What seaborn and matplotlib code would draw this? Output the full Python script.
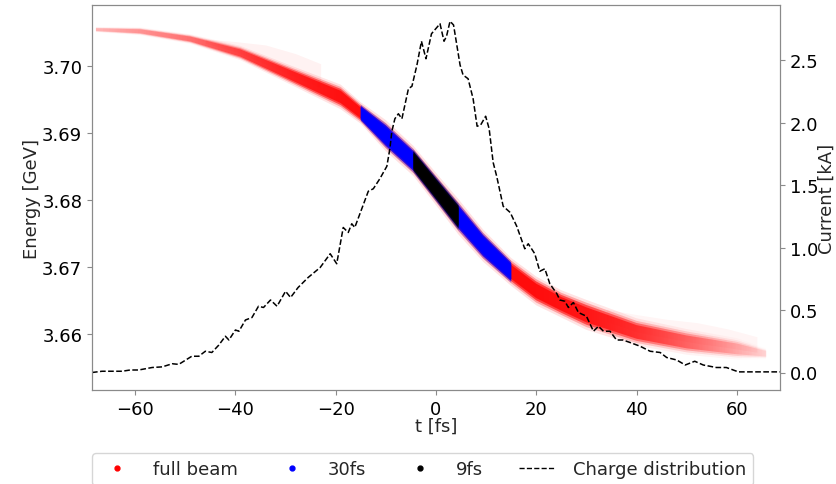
import numpy as np
import matplotlib
matplotlib.use("Agg")
import matplotlib.pyplot as plt
from matplotlib.lines import Line2D
from matplotlib.colors import to_rgb
import seaborn as sns

# ---- beam band ----
t_beam = [-68, -59, -49, -39, -29, -19, -15, -10, -4.5, 0, 4.5, 9.4, 15, 20, 25, 30, 40, 50, 60, 66]
e_center = [3.70539, 3.70513, 3.70398, 3.70189, 3.69861, 3.69534, 3.69295, 3.68957, 3.68580,
            3.68162, 3.67745, 3.67317, 3.66925, 3.66642, 3.66449, 3.66285, 3.66031, 3.65882,
            3.65778, 3.65703]
e_half = [0.00025, 0.00037, 0.00045, 0.00067, 0.00089, 0.00115, 0.00100, 0.00145, 0.00140,
          0.00150, 0.00165, 0.00150, 0.00130, 0.00134, 0.00127, 0.00140, 0.00127, 0.00120,
          0.00100, 0.00050]
# visual density of the dots along the band (0..1)
dens = [0.18, 0.28, 0.4, 0.6, 0.8, 0.95, 1, 1, 1, 1, 1, 1, 1, 1, 0.95, 0.9, 0.7, 0.45, 0.22, 0.1]

# sparse upper halos of the full beam
t_halo_l = [-46, -40, -34, -28, -23]
e_halo_l = [3.7040, 3.7036, 3.7031, 3.7018, 3.7003]
t_halo_r = [34, 40, 46, 52, 58, 64]
e_halo_r = [3.6637, 3.6629, 3.6622, 3.6617, 3.6608, 3.6596]

# ---- charge distribution (current) ----
t_cur = [-68.6, -66.6, -62.6, -61.0, -59.3, -56.6, -54.6, -52.6, -51.3, -48.7, -47.3, -46.0,
         -44.7, -43.3, -42.0, -41.3, -40.0, -39.3, -38.0, -36.7, -35.4, -34.4, -33.0, -31.7,
         -30.0, -29.0, -27.5, -25.5, -23.1, -21.1, -19.8, -18.5, -17.5, -16.8, -16.2, -14.8,
         -13.5, -12.5, -11.2, -9.8, -9.2, -8.8, -8.2, -7.5, -6.8, -5.5, -4.8, -3.8, -2.9,
         -2.0, -0.9, 0.8, 1.6, 2.1, 2.8, 3.5, 4.8, 5.4, 6.4, 7.4, 8.2, 8.9, 9.9, 10.6, 11.4,
         12.1, 13.4, 14.8, 16.1, 17.7, 18.4, 19.7, 20.7, 21.7, 22.7, 24.1, 24.7, 25.7, 26.4,
         27.4, 28.4, 30.0, 31.4, 32.4, 33.4, 34.7, 36.0, 37.3, 38.7, 40.7, 42.7, 44.7, 46.0,
         48.0, 49.7, 51.6, 53.3, 55.9, 57.9, 60.3, 68.6]
i_cur = [0.00, 0.01, 0.01, 0.02, 0.02, 0.04, 0.045, 0.07, 0.065, 0.13, 0.13, 0.17,
         0.16, 0.22, 0.29, 0.26, 0.34, 0.33, 0.42, 0.44, 0.53, 0.52, 0.58, 0.53,
         0.65, 0.60, 0.68, 0.76, 0.84, 0.95, 0.87, 1.16, 1.12, 1.19, 1.16, 1.31,
         1.45, 1.47, 1.55, 1.65, 1.79, 1.93, 2.03, 2.07, 2.03, 2.27, 2.29, 2.46, 2.65,
         2.51, 2.71, 2.79, 2.65, 2.69, 2.81, 2.78, 2.46, 2.38, 2.35, 2.19, 1.97, 1.98, 2.05, 1.95, 1.68,
         1.57, 1.33, 1.28, 1.17, 0.99, 1.03, 0.95, 0.81, 0.83, 0.71, 0.63, 0.58, 0.57, 0.52,
         0.56, 0.48, 0.45, 0.33, 0.37, 0.33, 0.33, 0.26, 0.26, 0.24, 0.21, 0.17, 0.16, 0.12,
         0.10, 0.06, 0.09, 0.06, 0.04, 0.04, 0.005, 0.005]

legend_labels = ["full beam", "30fs", "9fs", "Charge distribution"]
x_ticks = [-60, -40, -20, 0, 20, 40, 60]
e_ticks = [3.66, 3.67, 3.68, 3.69, 3.70]
i_ticks = [0.0, 0.5, 1.0, 1.5, 2.0, 2.5]

sns.set_style("ticks")
plt.rcParams["font.family"] = ["DejaVu Sans"]
plt.rcParams["font.size"] = 13
grey = "#8a8a8a"

XLIM = (-68.6, 68.6)
YLIM = (3.65165, 3.70905)

fig = plt.figure(figsize=(8.37, 4.85), dpi=100)
ax = fig.add_axes([92 / 837, 1 - 391 / 485, (780 - 92) / 837, (391 - 6) / 485])
ax.set_xlim(*XLIM)
ax.set_ylim(*YLIM)

tb = np.array(t_beam)
ec = np.array(e_center)
eh = np.array(e_half)
dn = np.array(dens)

# horizontal fade of the dot density, used as an alpha ramp
xcols = np.linspace(XLIM[0], XLIM[1], 700)
fade = np.interp(xcols, tb, dn, left=0, right=0)


def band(lo, hi, color, scales_alphas, use_fade):
    m = (tb >= lo) & (tb <= hi)
    rgb = to_rgb(color)
    for s, a in scales_alphas:
        poly = ax.fill_between(tb[m], ec[m] - s * eh[m], ec[m] + s * eh[m],
                               facecolor="none", lw=0)
        img = np.zeros((2, len(xcols), 4))
        img[..., 0], img[..., 1], img[..., 2] = rgb
        alpha = a * (fade if use_fade else np.ones_like(fade))
        img[..., 3] = np.clip(alpha, 0, 1)[None, :]
        im = ax.imshow(img, extent=[XLIM[0], XLIM[1], YLIM[0], YLIM[1]],
                       aspect="auto", origin="lower", interpolation="bilinear", zorder=1)
        im.set_clip_path(poly.get_paths()[0], transform=ax.transData)


# halos
tl = np.array(t_halo_l)
ax.fill_between(tl, np.interp(tl, tb, ec), e_halo_l, color="red", alpha=0.05, lw=0)
tr = np.array(t_halo_r)
ax.fill_between(tr, np.interp(tr, tb, ec), e_halo_r, color="red", alpha=0.04, lw=0)

band(-70, 70, "red", [(1.6, 0.12), (1.3, 0.3), (1.05, 0.6), (0.8, 0.8)], True)
band(-15, 15, "blue", [(1.25, 0.3), (1.05, 0.8), (0.85, 1.0)], False)
band(-4.5, 4.5, "black", [(1.2, 0.3), (1.0, 0.85), (0.8, 1.0)], False)

ax.set_xlim(*XLIM)
ax.set_ylim(*YLIM)
ax.set_xticks(x_ticks)
ax.set_yticks(e_ticks)
ax.set_xlabel("t [fs]", labelpad=-1)
ax.set_ylabel("Energy [GeV]", labelpad=0.5)

ax2 = ax.twinx()
sns.lineplot(x=t_cur, y=i_cur, ax=ax2, color="black", linestyle="--", lw=1.1, sort=False)
ax2.set_ylim(-0.14, 2.94)
ax2.set_yticks(i_ticks)
ax2.set_ylabel("Current [kA]", labelpad=-0.5)

for a in (ax, ax2):
    for sp in a.spines.values():
        sp.set_color(grey)
        sp.set_visible(True)
    a.tick_params(colors=grey, labelcolor="black", labelsize=13, length=3.5)

handles = [
    Line2D([], [], marker="o", color="red", linestyle="", markersize=3.5),
    Line2D([], [], marker="o", color="blue", linestyle="", markersize=3.5),
    Line2D([], [], marker="o", color="black", linestyle="", markersize=3.5),
    Line2D([], [], color="black", linestyle="--", lw=1.0),
]
fig.legend(handles, legend_labels, loc="upper left", bbox_to_anchor=(92 / 837, 1 - 454 / 485),
           ncol=4, fontsize=13, columnspacing=1.97, handletextpad=1.0, frameon=True,
           fancybox=True, edgecolor="#cccccc", borderpad=0.4, borderaxespad=0)

fig.savefig("out.png", dpi=100)
